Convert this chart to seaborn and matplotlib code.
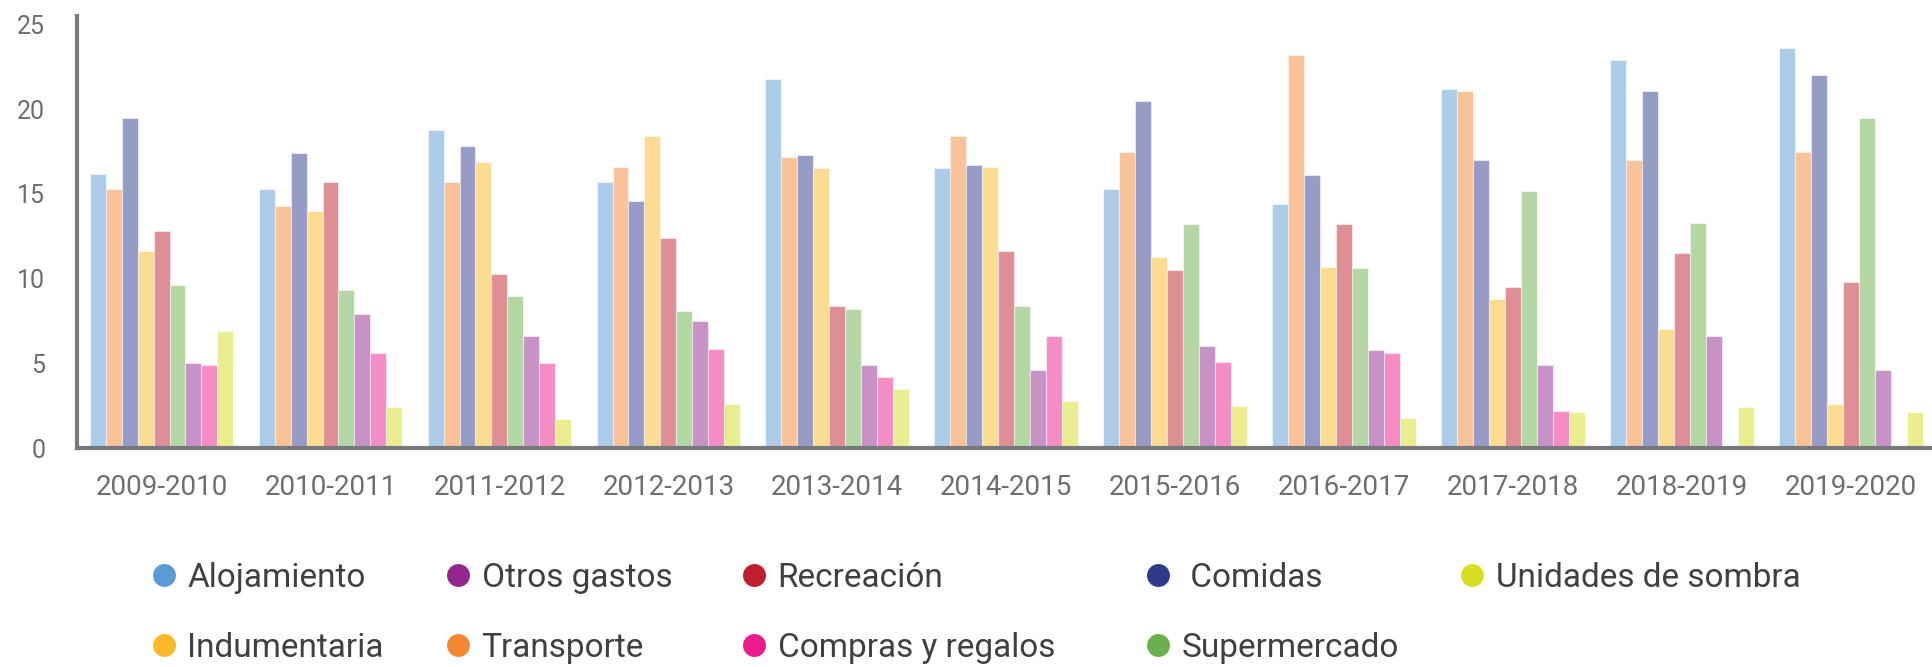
import numpy as np
import pandas as pd
import matplotlib
matplotlib.use("Agg")
import matplotlib.pyplot as plt
from matplotlib.lines import Line2D
import seaborn as sns

# data
years = ['2009-2010', '2010-2011', '2011-2012', '2012-2013', '2013-2014', '2014-2015',
         '2015-2016', '2016-2017', '2017-2018', '2018-2019', '2019-2020']
alojamiento = [16.2, 15.3, 18.8, 15.7, 21.8, 16.5, 15.3, 14.4, 21.2, 22.9, 23.6]
transporte = [15.3, 14.3, 15.7, 16.6, 17.2, 18.4, 17.5, 23.2, 21.1, 17.0, 17.5]
comidas = [19.5, 17.4, 17.8, 14.6, 17.3, 16.7, 20.5, 16.1, 17.0, 21.1, 22.0]
indumentaria = [11.6, 14.0, 16.9, 18.4, 16.5, 16.6, 11.3, 10.7, 8.8, 7.0, 2.6]
recreacion = [12.8, 15.7, 10.3, 12.4, 8.4, 11.6, 10.5, 13.2, 9.5, 11.5, 9.8]
supermercado = [9.6, 9.3, 9.0, 8.1, 8.2, 8.4, 13.2, 10.6, 15.2, 13.3, 19.5]
otros_gastos = [5.0, 7.9, 6.6, 7.5, 4.9, 4.6, 6.0, 5.8, 4.9, 6.6, 4.6]
compras = [4.9, 5.6, 5.0, 5.85, 4.2, 6.6, 5.1, 5.6, 2.2, np.nan, np.nan]
sombra = [6.9, 2.4, 1.7, 2.6, 3.5, 2.8, 2.5, 1.8, 2.1, 2.4, 2.1]

series = {
    'Alojamiento': alojamiento,
    'Transporte': transporte,
    'Comidas': comidas,
    'Indumentaria': indumentaria,
    'Recreación': recreacion,
    'Supermercado': supermercado,
    'Otros gastos': otros_gastos,
    'Compras y regalos': compras,
    'Unidades de sombra': sombra,
}
colors = {
    'Alojamiento': '#5b9bd5',
    'Transporte': '#f58634',
    'Comidas': '#2e3a8c',
    'Indumentaria': '#fbb929',
    'Recreación': '#be1e2d',
    'Supermercado': '#6ab04c',
    'Otros gastos': '#92278f',
    'Compras y regalos': '#ec1c8c',
    'Unidades de sombra': '#d7df23',
}

rows = []
for name, vals in series.items():
    for y, v in zip(years, vals):
        rows.append({'year': y, 'category': name, 'value': v})
df = pd.DataFrame(rows)

sns.set_style('white')
plt.rcParams['font.family'] = ['Roboto', 'DejaVu Sans']

fig = plt.figure(figsize=(19.32, 6.67), dpi=100)
ax = fig.add_axes([0.0399, 0.3283, 0.9601, 0.6477])

sns.barplot(data=df, x='year', y='value', hue='category', hue_order=list(series.keys()),
            palette=colors, width=0.85, saturation=1, alpha=0.5,
            edgecolor='white', linewidth=0.8, legend=False, ax=ax)

ax.set_xlim(-0.5, 10.48)
ax.set_ylim(0, 25.5)
ax.set_yticks([0, 5, 10, 15, 20, 25])
ax.set_xlabel('')
ax.set_ylabel('')
for side in ['top', 'right']:
    ax.spines[side].set_visible(False)
for side in ['left', 'bottom']:
    ax.spines[side].set_color('#77787b')
    ax.spines[side].set_linewidth(3)
ax.tick_params(axis='x', length=0, pad=19, labelsize=20, labelcolor='#6d6e71')
ax.tick_params(axis='y', length=0, pad=23, labelsize=18, labelcolor='#6d6e71')

# legend, laid out in columns like the original
legend_cols = [
    ['Alojamiento', 'Indumentaria'],
    ['Otros gastos', 'Transporte'],
    ['Recreación', 'Compras y regalos'],
    ['Comidas', 'Supermercado'],
    ['Unidades de sombra'],
]
col_x = [164, 458, 754, 1158, 1472]
W, H = 1932, 667
for names, xm in zip(legend_cols, col_x):
    handles = [Line2D([], [], marker='o', linestyle='none', markersize=16.5,
                      markerfacecolor=colors[n], markeredgecolor='none') for n in names]
    labels = [(' ' + n) if n == 'Comidas' else n for n in names]
    yc = 613 if len(names) == 2 else 578
    leg = fig.legend(handles, labels, loc='center left',
                     bbox_to_anchor=((xm - 11.5) / W, (H - yc) / H),
                     frameon=False, fontsize=24, handlelength=0.7, handletextpad=0.35,
                     labelspacing=1.14, borderpad=0, borderaxespad=0)
    for t in leg.get_texts():
        t.set_color('#404041')

fig.savefig('out.png', dpi=100)
